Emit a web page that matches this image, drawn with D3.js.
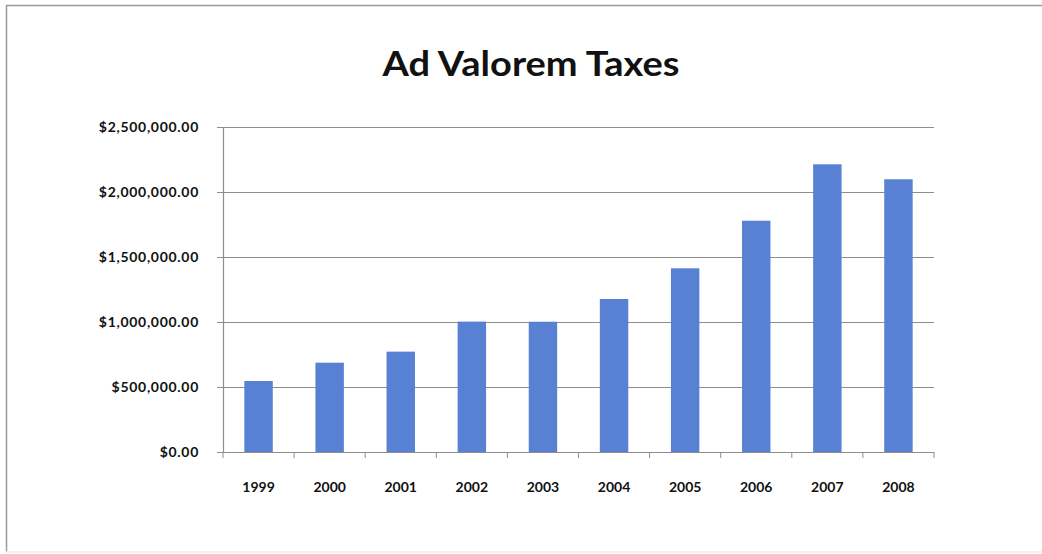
<!DOCTYPE html>
<html>
<head>
<meta charset="utf-8">
<script src="https://cdn.jsdelivr.net/npm/d3@7"></script>
<style>
  html, body { margin: 0; padding: 0; background: #fff; }
  svg { display: block; }
  text { font-family: Lato, "Open Sans", "DejaVu Sans", sans-serif; fill: #111; }
</style>
</head>
<body>
<svg id="chart" width="1042" height="554"></svg>
<script>
// Annual ad valorem tax collections
const years = ["1999", "2000", "2001", "2002", "2003", "2004", "2005", "2006", "2007", "2008"];
const taxes = [546000, 687000, 772000, 1003000, 1002000, 1177000, 1413000, 1779000, 2213000, 2098000];
const yTicks = [0, 500000, 1000000, 1500000, 2000000, 2500000];
const chartTitle = "Ad Valorem Taxes";

const svg = d3.select("#chart");
const W = 1042, H = 554;
const plot = { left: 223, right: 934, top: 127, bottom: 452 };

// outer frame (left, top and bottom edges)
svg.append("path")
  .attr("d", `M6.5,${H - 2.5} L6.5,5.5 L${W},5.5`)
  .attr("fill", "none").attr("stroke", "#9a9a9a").attr("stroke-width", 1.5);
svg.append("line")
  .attr("x1", 6).attr("x2", W).attr("y1", H - 2).attr("y2", H - 2)
  .attr("stroke", "#e4e4e4").attr("stroke-width", 1);

const x = d3.scaleBand().domain(years).range([plot.left, plot.right]).paddingInner(0.6).paddingOuter(0.3);
const xEdge = d3.scalePoint().domain(d3.range(years.length + 1)).range([plot.left, plot.right]);
const y = d3.scaleLinear().domain([0, 2500000]).range([plot.bottom, plot.top]);

// horizontal gridlines
svg.append("g").selectAll("line").data(yTicks.slice(1)).join("line")
  .attr("x1", plot.left).attr("x2", plot.right)
  .attr("y1", d => y(d) + 0.5).attr("y2", d => y(d) + 0.5)
  .attr("stroke", "#8e8e8e").attr("stroke-width", 1.2);

// bars
svg.append("g").selectAll("rect").data(years).join("rect")
  .attr("x", d => x(d))
  .attr("width", x.bandwidth())
  .attr("y", (d, i) => y(taxes[i]))
  .attr("height", (d, i) => y(0) - y(taxes[i]))
  .attr("fill", "#5881d3");

// y axis
const fmt = d3.format("$,.2f");
const yAxis = svg.append("g").attr("transform", `translate(${plot.left},0)`)
  .call(d3.axisLeft(y).tickValues(yTicks).tickSize(6).tickPadding(18).tickFormat(fmt));
yAxis.select(".domain").attr("stroke", "#8e8e8e").attr("stroke-width", 1.2);
yAxis.selectAll(".tick line").attr("stroke", "#8e8e8e");
yAxis.selectAll(".tick text")
  .style("font-family", "Lato, 'Open Sans', sans-serif")
  .attr("font-size", 14).attr("fill", "#111").attr("font-weight", 700)
  .attr("letter-spacing", 0.7);

// x axis line with boundary ticks
const xg = svg.append("g");
xg.append("line")
  .attr("x1", plot.left).attr("x2", plot.right)
  .attr("y1", plot.bottom + 0.5).attr("y2", plot.bottom + 0.5)
  .attr("stroke", "#8e8e8e").attr("stroke-width", 1.2);
xg.selectAll("line.tk").data(d3.range(years.length + 1)).join("line")
  .attr("class", "tk")
  .attr("x1", d => xEdge(d)).attr("x2", d => xEdge(d))
  .attr("y1", plot.bottom).attr("y2", plot.bottom + 6)
  .attr("stroke", "#8e8e8e").attr("stroke-width", 1);
xg.selectAll("text").data(years).join("text")
  .attr("x", d => x(d) + x.bandwidth() / 2)
  .attr("y", 492)
  .attr("text-anchor", "middle")
  .attr("font-size", 14).attr("font-weight", 700)
  .text(d => d);

// title
svg.append("text")
  .attr("x", 531).attr("y", 76)
  .attr("text-anchor", "middle")
  .attr("font-size", 35).attr("font-weight", 700)
  .attr("textLength", 297).attr("lengthAdjust", "spacingAndGlyphs")
  .text(chartTitle);
</script>
</body>
</html>
